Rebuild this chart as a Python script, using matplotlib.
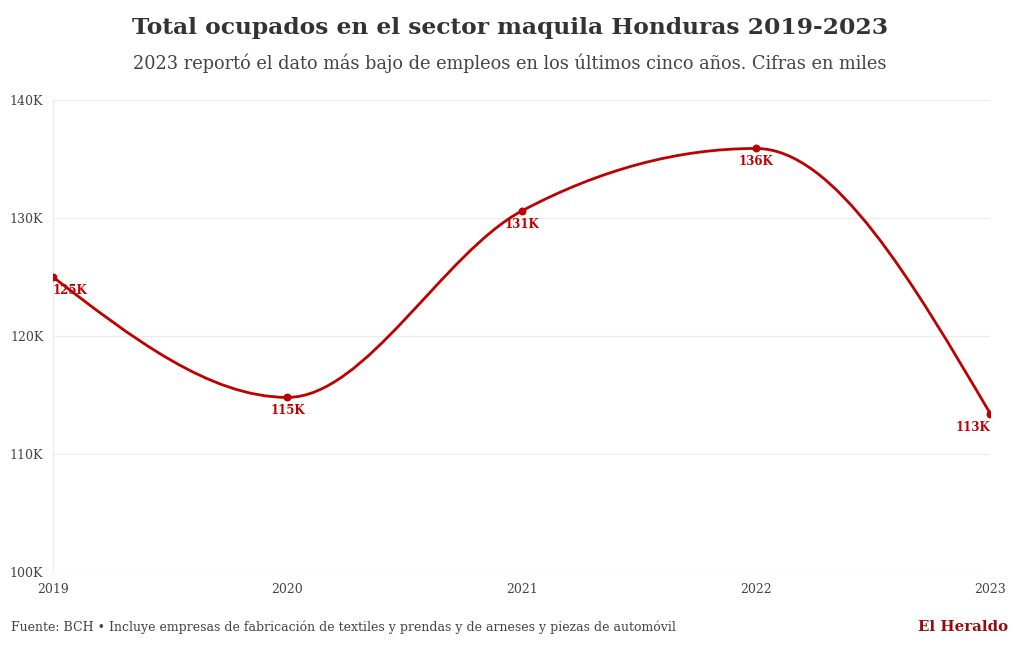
import numpy as np
import matplotlib.pyplot as plt
from matplotlib.path import Path
from matplotlib.patches import PathPatch
from matplotlib.ticker import FuncFormatter

years = [2019, 2020, 2021, 2022, 2023]
ocupados = [125.0, 114.8, 130.6, 135.9, 113.4]  # miles
y_ticks = [100, 110, 120, 130, 140]

RED = '#bf0000'
plt.rcParams['font.family'] = ['DejaVu Serif']


def monotone_path(x, y):
    # same idea as d3.curveMonotoneX, built as cubic bezier segments
    x = np.asarray(x, float)
    y = np.asarray(y, float)
    n = len(x)
    h = np.diff(x)
    s = np.diff(y) / h
    t = np.zeros(n)
    for i in range(1, n - 1):
        p = (s[i - 1] * h[i] + s[i] * h[i - 1]) / (h[i - 1] + h[i])
        t[i] = (np.sign(s[i - 1]) + np.sign(s[i])) * min(abs(s[i - 1]), abs(s[i]), 0.5 * abs(p))
    t[0] = (3 * s[0] - t[1]) / 2
    t[-1] = (3 * s[-1] - t[-2]) / 2
    verts = [(x[0], y[0])]
    codes = [Path.MOVETO]
    for i in range(n - 1):
        dx = h[i] / 3
        verts += [(x[i] + dx, y[i] + dx * t[i]), (x[i + 1] - dx, y[i + 1] - dx * t[i + 1]), (x[i + 1], y[i + 1])]
        codes += [Path.CURVE4] * 3
    return Path(verts, codes)


fig = plt.figure(figsize=(10.2, 6.5), dpi=100)
ax = fig.add_axes([0.052, 0.12, 0.919, 0.726])

ax.add_patch(PathPatch(monotone_path(years, ocupados), fill=False, edgecolor=RED, lw=2.0, zorder=3))
ax.scatter(years, ocupados, s=22, color=RED, zorder=4)

for i, (x, v) in enumerate(zip(years, ocupados)):
    ha = 'left' if i == 0 else ('right' if i == len(years) - 1 else 'center')
    ax.annotate(f'{v:.0f}K', (x, v), xytext=(0, -5), textcoords='offset points',
                ha=ha, va='top', fontsize=8.5, fontweight='bold', color=RED)

ax.set_xlim(years[0], years[-1])
ax.set_ylim(y_ticks[0], y_ticks[-1])
ax.set_yticks(y_ticks)
ax.set_xticks(years)
ax.yaxis.set_major_formatter(FuncFormatter(lambda v, p: f'{v:.0f}K'))
ax.grid(axis='y', color='#ebebeb', lw=0.8)
ax.set_axisbelow(True)
for side in ['top', 'right', 'bottom']:
    ax.spines[side].set_visible(False)
ax.spines['left'].set_color('#ebebeb')
ax.tick_params(axis='both', length=0, labelsize=9, colors='#444444')
ax.tick_params(axis='y', pad=7)
ax.tick_params(axis='x', pad=8)

fig.text(0.5, 0.957, 'Total ocupados en el sector maquila Honduras 2019-2023',
         ha='center', va='center', fontsize=16.8, fontweight='bold', color='#333333')
fig.text(0.5, 0.903, '2023 reportó el dato más bajo de empleos en los últimos cinco años. Cifras en miles',
         ha='center', va='center', fontsize=12.8, color='#444444')
fig.text(0.011, 0.035, 'Fuente: BCH \u2022 Incluye empresas de fabricación de textiles y prendas y de arneses y piezas de automóvil',
         ha='left', va='center', fontsize=9, color='#444444')
fig.text(0.988, 0.035, 'El Heraldo', ha='right', va='center', fontsize=10.8,
         fontweight='bold', color='#9b0a0a')

fig.savefig('out.png', dpi=100)
